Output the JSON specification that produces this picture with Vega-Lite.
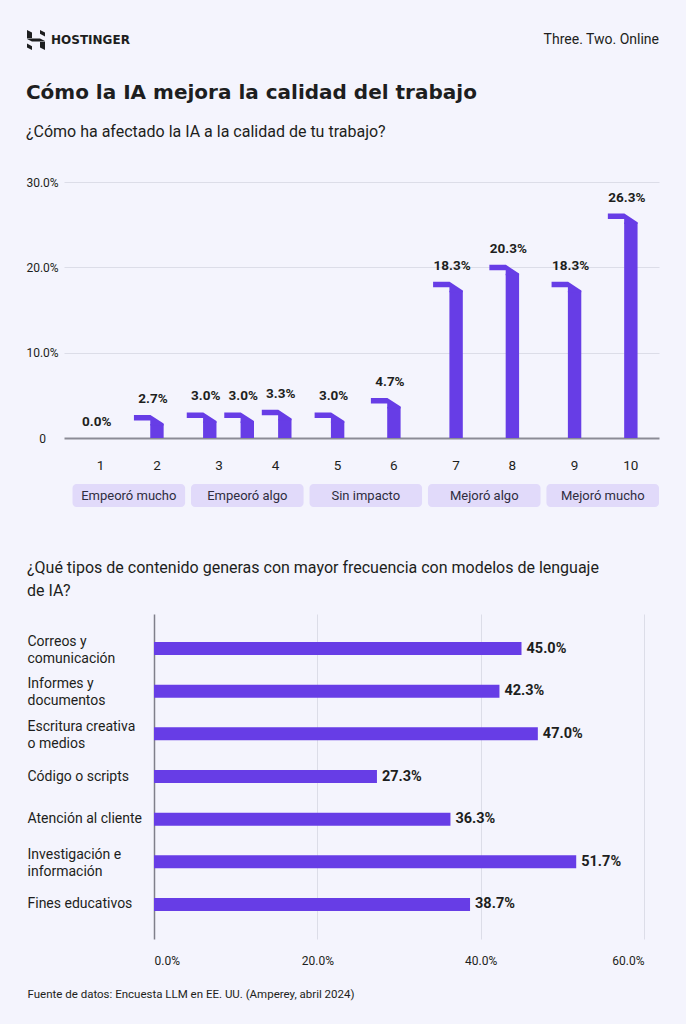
{
  "$schema": "https://vega.github.io/schema/vega-lite/v6.json",
  "background": "#f4f4fd",
  "padding": {"left": 25, "top": 30, "right": 28, "bottom": 28},
  "config": {
    "view": {"stroke": null},
    "font": "Roboto",
    "axis": {"labelFont": "Roboto", "titleFont": "Roboto"}
  },
  "datasets": {
    "calidad": [
      {"grupo": "Empeoró mucho", "lado": "izquierda", "valor": 0.0},
      {"grupo": "Empeoró mucho", "lado": "derecha", "valor": 0.027},
      {"grupo": "Empeoró algo", "lado": "izquierda", "valor": 0.03},
      {"grupo": "Empeoró algo", "lado": "centro", "valor": 0.03},
      {"grupo": "Empeoró algo", "lado": "derecha", "valor": 0.033},
      {"grupo": "Sin impacto", "lado": "izquierda", "valor": 0.03},
      {"grupo": "Sin impacto", "lado": "derecha", "valor": 0.047},
      {"grupo": "Mejoró algo", "lado": "izquierda", "valor": 0.183},
      {"grupo": "Mejoró algo", "lado": "derecha", "valor": 0.203},
      {"grupo": "Mejoró mucho", "lado": "izquierda", "valor": 0.183},
      {"grupo": "Mejoró mucho", "lado": "derecha", "valor": 0.263}
    ],
    "escala": [
      {"grupo": "Empeoró mucho", "lado": "izquierda", "numero": 1},
      {"grupo": "Empeoró mucho", "lado": "derecha", "numero": 2},
      {"grupo": "Empeoró algo", "lado": "izquierda", "numero": 3},
      {"grupo": "Empeoró algo", "lado": "derecha", "numero": 4},
      {"grupo": "Sin impacto", "lado": "izquierda", "numero": 5},
      {"grupo": "Sin impacto", "lado": "derecha", "numero": 6},
      {"grupo": "Mejoró algo", "lado": "izquierda", "numero": 7},
      {"grupo": "Mejoró algo", "lado": "derecha", "numero": 8},
      {"grupo": "Mejoró mucho", "lado": "izquierda", "numero": 9},
      {"grupo": "Mejoró mucho", "lado": "derecha", "numero": 10}
    ],
    "grupos": [
      {"grupo": "Empeoró mucho"},
      {"grupo": "Empeoró algo"},
      {"grupo": "Sin impacto"},
      {"grupo": "Mejoró algo"},
      {"grupo": "Mejoró mucho"}
    ],
    "contenido": [
      {"tipo": "Correos y\ncomunicación", "valor": 0.45},
      {"tipo": "Informes y\ndocumentos", "valor": 0.423},
      {"tipo": "Escritura creativa\no medios", "valor": 0.47},
      {"tipo": "Código o scripts", "valor": 0.273},
      {"tipo": "Atención al cliente", "valor": 0.363},
      {"tipo": "Investigación e\ninformación", "valor": 0.517},
      {"tipo": "Fines educativos", "valor": 0.387}
    ]
  },
  "spacing": 53,
  "resolve": {"scale": {"x": "independent", "y": "independent"}},
  "vconcat": [
    {
      "spacing": 33,
      "resolve": {"scale": {"x": "independent", "y": "independent"}},
      "vconcat": [
        {
          "width": 595,
          "height": 20,
          "data": {"values": [
            {"pieza": "marca", "texto": "HOSTINGER"},
            {"pieza": "lema", "texto": "Three. Two. Online"}
          ]},
          "encoding": {
            "x": {"field": "pieza", "type": "nominal", "scale": {"type": "point", "domain": ["marca", "lema"], "padding": 0}, "axis": null}
          },
          "layer": [
            {
              "transform": [{"filter": "datum.pieza === 'marca'"}],
              "mark": {
                "type": "point",
                "shape": "M-0.9,-1 L-0.4,-0.74 L-0.4,-0.2 L-0.9,-0.2 Z M0.4,-1 L0.9,-0.74 L0.9,-0.36 L0.4,-0.62 Z M-0.9,-0.16 L0.4,-0.16 L0.9,0.1 L0.9,0.16 L-0.4,0.16 L-0.9,-0.1 Z M0.9,1 L0.4,0.74 L0.4,0.2 L0.9,0.2 Z M-0.4,1 L-0.9,0.74 L-0.9,0.36 L-0.4,0.62 Z",
                "size": 400,
                "filled": true,
                "color": "#1d1e20",
                "opacity": 1,
                "strokeWidth": 0,
                "xOffset": -28
              }
            },
            {
              "transform": [{"filter": "datum.pieza === 'marca'"}],
              "mark": {"type": "text", "align": "left", "dx": -13, "font": "DejaVu Sans", "fontWeight": "bold", "fontSize": 12, "color": "#1d1e20"},
              "encoding": {"text": {"field": "texto"}}
            },
            {
              "transform": [{"filter": "datum.pieza === 'lema'"}],
              "mark": {"type": "text", "align": "right", "fontSize": 14, "color": "#1d1e20"},
              "encoding": {"text": {"field": "texto"}}
            }
          ]
        },
        {
          "spacing": 15,
          "resolve": {"scale": {"x": "independent", "y": "independent"}},
          "vconcat": [
            {
              "width": 595,
              "height": 256,
              "title": {
                "text": "Cómo la IA mejora la calidad del trabajo",
                "subtitle": "¿Cómo ha afectado la IA a la calidad de tu trabajo?",
                "anchor": "start",
                "frame": "bounds",
                "font": "DejaVu Sans",
                "fontSize": 20,
                "fontWeight": "bold",
                "lineHeight": 22,
                "color": "#1d1e20",
                "subtitleFont": "Roboto",
                "subtitleFontSize": 16,
                "subtitleColor": "#1d1e20",
                "subtitlePadding": 21,
                "offset": 36
              },
              "data": {"name": "calidad"},
              "encoding": {
                "x": {
                  "field": "grupo",
                  "type": "nominal",
                  "scale": {"type": "band", "domain": ["Empeoró mucho", "Empeoró algo", "Sin impacto", "Mejoró algo", "Mejoró mucho"], "paddingInner": 0.05, "paddingOuter": 0.036, "align": 1},
                  "axis": null
                },
                "y": {
                  "field": "valor",
                  "type": "quantitative",
                  "scale": {"domain": [0, 0.3]},
                  "axis": {
                    "title": null,
                    "values": [0, 0.1, 0.2, 0.3],
                    "format": ".1%",
                    "labelExpr": "datum.value === 0 ? '0' : datum.label",
                    "domain": false,
                    "ticks": false,
                    "tickSize": 0,
                    "labelAlign": "center",
                    "labelPadding": 22,
                    "labelFontSize": 12,
                    "labelColor": "#1d1e20",
                    "gridColor": {"condition": {"test": "datum.value === 0", "value": "#8b8b96"}, "value": "#dcdde8"},
                    "gridWidth": {"condition": {"test": "datum.value === 0", "value": 2}, "value": 1}
                  }
                }
              },
              "resolve": {"scale": {"xOffset": "independent"}},
              "layer": [
                {
                  "transform": [{"filter": "datum.grupo !== 'Empeoró algo'"}],
                  "encoding": {
                    "xOffset": {"field": "lado", "type": "nominal", "scale": {"type": "band", "domain": ["izquierda", "derecha"], "paddingInner": 0, "paddingOuter": 0}}
                  },
                  "layer": [
                    {
                      "transform": [{"filter": "datum.valor > 0"}],
                      "mark": {"type": "bar", "width": 13.4, "color": "#673de6", "yOffset": 9},
                      "encoding": {"y2": {"datum": 0}}
                    },
                    {
                      "transform": [{"filter": "datum.valor > 0"}],
                      "mark": {
                        "type": "point",
                        "shape": "M-0.767,0 L-0.217,0 L0.223,0.287 L0.223,0.35 L-0.223,0.35 L-0.223,0.183 L-0.767,0.183 Z",
                        "size": 3600,
                        "filled": true,
                        "color": "#673de6",
                        "opacity": 1,
                        "strokeWidth": 0
                      }
                    },
                    {
                      "mark": {"type": "text", "dx": -4, "dy": -12, "baseline": "alphabetic", "fontWeight": "bold", "fontSize": 13.5, "color": "#1d1e20"},
                      "encoding": {"text": {"field": "valor", "type": "quantitative", "format": ".1%"}}
                    }
                  ]
                },
                {
                  "transform": [{"filter": "datum.grupo === 'Empeoró algo'"}],
                  "encoding": {
                    "xOffset": {"field": "lado", "type": "nominal", "scale": {"type": "band", "domain": ["izquierda", "centro", "derecha"], "paddingInner": 0, "paddingOuter": 0}}
                  },
                  "layer": [
                    {
                      "mark": {"type": "bar", "width": 13.4, "color": "#673de6", "yOffset": 9},
                      "encoding": {"y2": {"datum": 0}}
                    },
                    {
                      "mark": {
                        "type": "point",
                        "shape": "M-0.767,0 L-0.217,0 L0.223,0.287 L0.223,0.35 L-0.223,0.35 L-0.223,0.183 L-0.767,0.183 Z",
                        "size": 3600,
                        "filled": true,
                        "color": "#673de6",
                        "opacity": 1,
                        "strokeWidth": 0
                      }
                    },
                    {
                      "mark": {"type": "text", "dx": -4, "dy": -12, "baseline": "alphabetic", "fontWeight": "bold", "fontSize": 13.5, "color": "#1d1e20"},
                      "encoding": {"text": {"field": "valor", "type": "quantitative", "format": ".1%"}}
                    }
                  ]
                }
              ]
            },
            {
              "spacing": 11,
              "resolve": {"scale": {"x": "independent", "xOffset": "independent"}},
              "vconcat": [
                {
                  "width": 595,
                  "height": 14,
                  "data": {"name": "escala"},
                  "mark": {"type": "text", "fontSize": 13.5, "color": "#1d1e20"},
                  "encoding": {
                    "x": {
                      "field": "grupo",
                      "type": "nominal",
                      "scale": {"type": "band", "domain": ["Empeoró mucho", "Empeoró algo", "Sin impacto", "Mejoró algo", "Mejoró mucho"], "paddingInner": 0.05, "paddingOuter": 0.036, "align": 1},
                      "axis": null
                    },
                    "xOffset": {"field": "lado", "type": "nominal", "scale": {"type": "band", "domain": ["izquierda", "derecha"], "paddingInner": 0, "paddingOuter": 0}},
                    "text": {"field": "numero", "type": "quantitative"}
                  }
                },
                {
                  "width": 595,
                  "height": 23,
                  "data": {"name": "grupos"},
                  "encoding": {
                    "x": {
                      "field": "grupo",
                      "type": "nominal",
                      "scale": {"type": "band", "domain": ["Empeoró mucho", "Empeoró algo", "Sin impacto", "Mejoró algo", "Mejoró mucho"], "paddingInner": 0.05, "paddingOuter": 0.036, "align": 1},
                      "axis": null
                    }
                  },
                  "layer": [
                    {"mark": {"type": "bar", "color": "#e1dafa", "cornerRadius": 4}},
                    {
                      "mark": {"type": "text", "fontSize": 13, "color": "#2f2d40"},
                      "encoding": {"text": {"field": "grupo"}}
                    }
                  ]
                }
              ]
            }
          ]
        }
      ]
    },
    {
      "width": 580,
      "height": 325,
      "title": {
        "text": ["¿Qué tipos de contenido generas con mayor frecuencia con modelos de lenguaje", "de IA?"],
        "anchor": "start",
        "frame": "bounds",
        "font": "Roboto",
        "fontSize": 16,
        "fontWeight": "normal",
        "lineHeight": 23,
        "color": "#1d1e20",
        "offset": 15
      },
      "data": {"name": "contenido"},
      "encoding": {
        "y": {
          "field": "tipo",
          "type": "nominal",
          "sort": null,
          "scale": {"paddingInner": 0, "paddingOuter": 0.31},
          "axis": {
            "title": null,
            "domain": false,
            "ticks": false,
            "tickSize": 0,
            "grid": false,
            "labelAlign": "left",
            "labelBaseline": "middle",
            "labelPadding": 37,
            "labelLimit": 0,
            "labelExpr": "split(datum.label, '\\n')",
            "labelOffset": {"condition": {"test": "indexof(datum.value, '\\n') >= 0", "value": -7}, "value": 0},
            "labelFontSize": 14,
            "labelLineHeight": 17,
            "labelColor": "#1d1e20"
          }
        },
        "x": {
          "field": "valor",
          "type": "quantitative",
          "scale": {"domain": [0, 0.6], "range": [90, 580]},
          "axis": {
            "values": [0, 0.2, 0.4, 0.6],
            "format": ".1%",
            "domain": false,
            "ticks": false,
            "tickSize": 0,
            "labelPadding": 16,
            "labelFontSize": 12,
            "labelColor": "#1d1e20",
            "grid": true,
            "gridColor": {"condition": {"test": "datum.value === 0", "value": "#7f7f8b"}, "value": "#dcdde8"},
            "gridWidth": {"condition": {"test": "datum.value === 0", "value": 1.5}, "value": 1},
            "title": "Fuente de datos: Encuesta LLM en EE. UU. (Amperey, abril 2024)",
            "titleX": -37,
            "titleY": 55,
            "titleAlign": "left",
            "titleAnchor": "start",
            "titleBaseline": "middle",
            "titleFontSize": 11.5,
            "titleFontWeight": "normal",
            "titleColor": "#1d1e20"
          }
        }
      },
      "layer": [
        {"mark": {"type": "bar", "height": 13, "color": "#673de6"}},
        {
          "mark": {"type": "text", "align": "left", "baseline": "middle", "dx": 5, "fontWeight": "bold", "fontSize": 14.5, "color": "#1d1e20"},
          "encoding": {"text": {"field": "valor", "type": "quantitative", "format": ".1%"}}
        }
      ]
    }
  ]
}
